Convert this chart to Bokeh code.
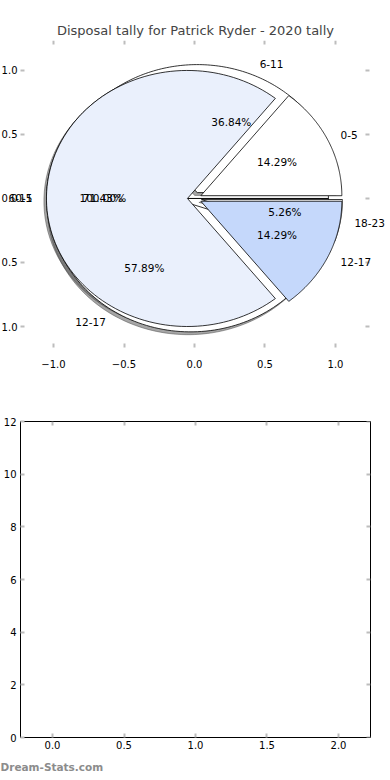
import numpy as np
from bokeh.plotting import figure
from bokeh.models import Range1d, FixedTicker, LinearAxis, Label, Title
from bokeh.layouts import column
from bokeh.embed import file_html
from bokeh.resources import INLINE

# ---------------- data ----------------
title_text = "Disposal tally for Patrick Ryder - 2020 tally"

labels_c = ["0-5"]
values_c = [1]

labels_a = ["6-11", "12-17", "18-23"]
values_a = [7, 11, 1]

labels_b = ["0-5", "6-11", "12-17"]
values_b = [1, 5, 1]

colors_c = ["#FFFFFF"]
colors_a = ["#FFFFFF", "#FFFFFF", "#FFFFFF"]
colors_b = ["#FFFFFF", "#EAF0FC", "#C5D8FB"]

pie_ticks = [-1.0, -0.5, 0.0, 0.5, 1.0]
pie_x_tick_labels = ["\u22121.0", "\u22120.5", "0.0", "0.5", "1.0"]
# left labels as visible in the reference (their minus signs fall off the edge)
pie_y_tick_labels = ["1.0", "0.5", "0.0", "0.5", "1.0"]

bar_x_ticks = [0.0, 0.5, 1.0, 1.5, 2.0]
bar_x_tick_labels = ["0.0", "0.5", "1.0", "1.5", "2.0"]
bar_y_ticks = [0, 2, 4, 6, 8, 10, 12]
bar_y_tick_labels = ["0", "2", "4", "6", "8", "10", "12"]

watermark = "Dream-Stats.com"

EXPLODE = 0.05
FONT = "DejaVu Sans"
TICK_COLOR = "#BDBDBD"

# pie axes box (data units); the frame spans the whole canvas width
PIE_XLIM = (-1.234, 1.241)
PIE_YLIM = (-1.164, 1.234)
PIE_FULL_X = (-1.3759, 1.3901)
PX_PER_UNIT = 141.0
BAR_XLIM = (-0.224, 2.224)
BAR_YLIM = (0, 12)

W = 390


def style_axis(ax, ticks, labels=None, standoff=4):
    ax.ticker = FixedTicker(ticks=ticks)
    ax.axis_line_color = None
    ax.major_tick_in = 4
    ax.major_tick_out = 0
    ax.minor_tick_in = 0
    ax.minor_tick_out = 0
    ax.major_tick_line_color = TICK_COLOR
    ax.major_tick_line_width = 2
    ax.major_label_text_font = FONT
    ax.major_label_text_font_size = "10px"
    ax.major_label_text_color = "#000000"
    ax.major_label_standoff = standoff
    if labels is not None:
        ax.major_label_overrides = {t: l for t, l in zip(ticks, labels)}
    else:
        ax.major_label_overrides = {t: "" for t in ticks}
        ax.major_label_text_font_size = "0px"
        ax.major_label_standoff = 0


# ---------------- pie figure ----------------
p1 = figure(width=W, height=395,
            x_range=Range1d(*PIE_FULL_X), y_range=Range1d(*PIE_YLIM),
            output_backend="svg", toolbar_location=None,
            min_border_left=0, min_border_right=0,
            min_border_top=40, min_border_bottom=48,
            y_axis_location=None)
p1.frame_align = False
p1.grid.visible = False
p1.outline_line_color = None
p1.title.text = title_text
p1.title.text_font = FONT
p1.title.text_font_size = "13px"
p1.title.text_font_style = "normal"
p1.title.align = "center"
p1.title.standoff = 5

style_axis(p1.xaxis[0], pie_ticks, pie_x_tick_labels, standoff=12)
ax_top = LinearAxis(fixed_location=PIE_YLIM[1])
style_axis(ax_top, pie_ticks)
p1.add_layout(ax_top, "above")

# left / right tick marks of the pie axes box and the left tick labels
tl = 4.0 / PX_PER_UNIT
n = len(pie_ticks)
p1.segment(x0=[PIE_XLIM[0]] * n, y0=pie_ticks, x1=[PIE_XLIM[0] + tl] * n,
           y1=pie_ticks, line_color=TICK_COLOR, line_width=2)
p1.segment(x0=[PIE_XLIM[1]] * n, y0=pie_ticks, x1=[PIE_XLIM[1] - tl] * n,
           y1=pie_ticks, line_color=TICK_COLOR, line_width=2)
for t, lab in zip(pie_ticks, pie_y_tick_labels):
    p1.add_layout(Label(x=PIE_XLIM[0], y=t, x_offset=-3, text=lab,
                        text_align="right", text_baseline="middle",
                        text_font=FONT, text_font_size="10px",
                        text_color="#000000"))


def wedge(cx, cy, a0, a1, r=1.0, n=120):
    t = np.radians(np.linspace(a0, a1, n))
    xs = [cx] + list(cx + r * np.cos(t)) + [cx]
    ys = [cy] + list(cy + r * np.sin(t)) + [cy]
    return xs, ys


def draw_pie(p, labels, values, colors, shadow=True):
    v = np.array(values, dtype=float)
    fr = v / v.sum()
    bounds = np.concatenate([[0.0], np.cumsum(fr)]) * 360.0
    wx, wy, sx, sy, cols = [], [], [], [], []
    texts = []
    for i in range(len(v)):
        a0, a1 = bounds[i], bounds[i + 1]
        mid = np.radians((a0 + a1) / 2.0)
        cx, cy = EXPLODE * np.cos(mid), EXPLODE * np.sin(mid)
        xs, ys = wedge(cx, cy, a0, a1)
        wx.append(xs); wy.append(ys); cols.append(colors[i])
        sx.append([x - 0.018 for x in xs]); sy.append([y - 0.022 for y in ys])
        lx, ly = cx + 1.1 * np.cos(mid), cy + 1.1 * np.sin(mid)
        px, py = cx + 0.6 * np.cos(mid), cy + 0.6 * np.sin(mid)
        texts.append((labels[i], lx, ly, "left" if lx > 0 else "right"))
        texts.append(("%.2f%%" % (100 * fr[i]), px, py, "center"))
    if shadow:
        p.patches(sx, sy, fill_color="#4D4D4D", fill_alpha=0.5,
                  line_color="#4D4D4D", line_alpha=0.5, line_width=1)
    p.patches(wx, wy, fill_color=cols, line_color="#000000", line_width=0.8)
    return texts


all_texts = []
all_texts += draw_pie(p1, labels_c, values_c, colors_c, shadow=True)
all_texts += draw_pie(p1, labels_a, values_a, colors_a, shadow=True)
all_texts += draw_pie(p1, labels_b, values_b, colors_b, shadow=False)

for txt, x, y, align in all_texts:
    p1.add_layout(Label(x=x, y=y, text=txt, text_align=align,
                        text_baseline="middle", text_font=FONT,
                        text_font_size="10.5px", text_color="#000000"))

# ---------------- empty bar figure ----------------
p2 = figure(width=W, height=385,
            x_range=Range1d(*BAR_XLIM), y_range=Range1d(*BAR_YLIM),
            output_backend="svg", toolbar_location=None,
            min_border_left=20, min_border_right=20,
            min_border_top=26, min_border_bottom=40)
p2.frame_align = False
p2.grid.visible = False
p2.outline_line_color = "#000000"
p2.outline_line_width = 1
style_axis(p2.xaxis[0], bar_x_ticks, bar_x_tick_labels, standoff=3)
style_axis(p2.yaxis[0], bar_y_ticks, bar_y_tick_labels, standoff=4)
ax_top2 = LinearAxis(fixed_location=BAR_YLIM[1])
style_axis(ax_top2, bar_x_ticks)
p2.add_layout(ax_top2, "above")
ax_right2 = LinearAxis(fixed_location=BAR_XLIM[1])
style_axis(ax_right2, bar_y_ticks)
p2.add_layout(ax_right2, "right")

p2.add_layout(Title(text=watermark, align="left", offset=-20, standoff=15,
                    text_font=FONT, text_font_size="10.5px",
                    text_font_style="bold", text_color="#8C8C8C"), "below")

layout = column(p1, p2, spacing=0)
open("out.html", "w").write(file_html(layout, INLINE))
